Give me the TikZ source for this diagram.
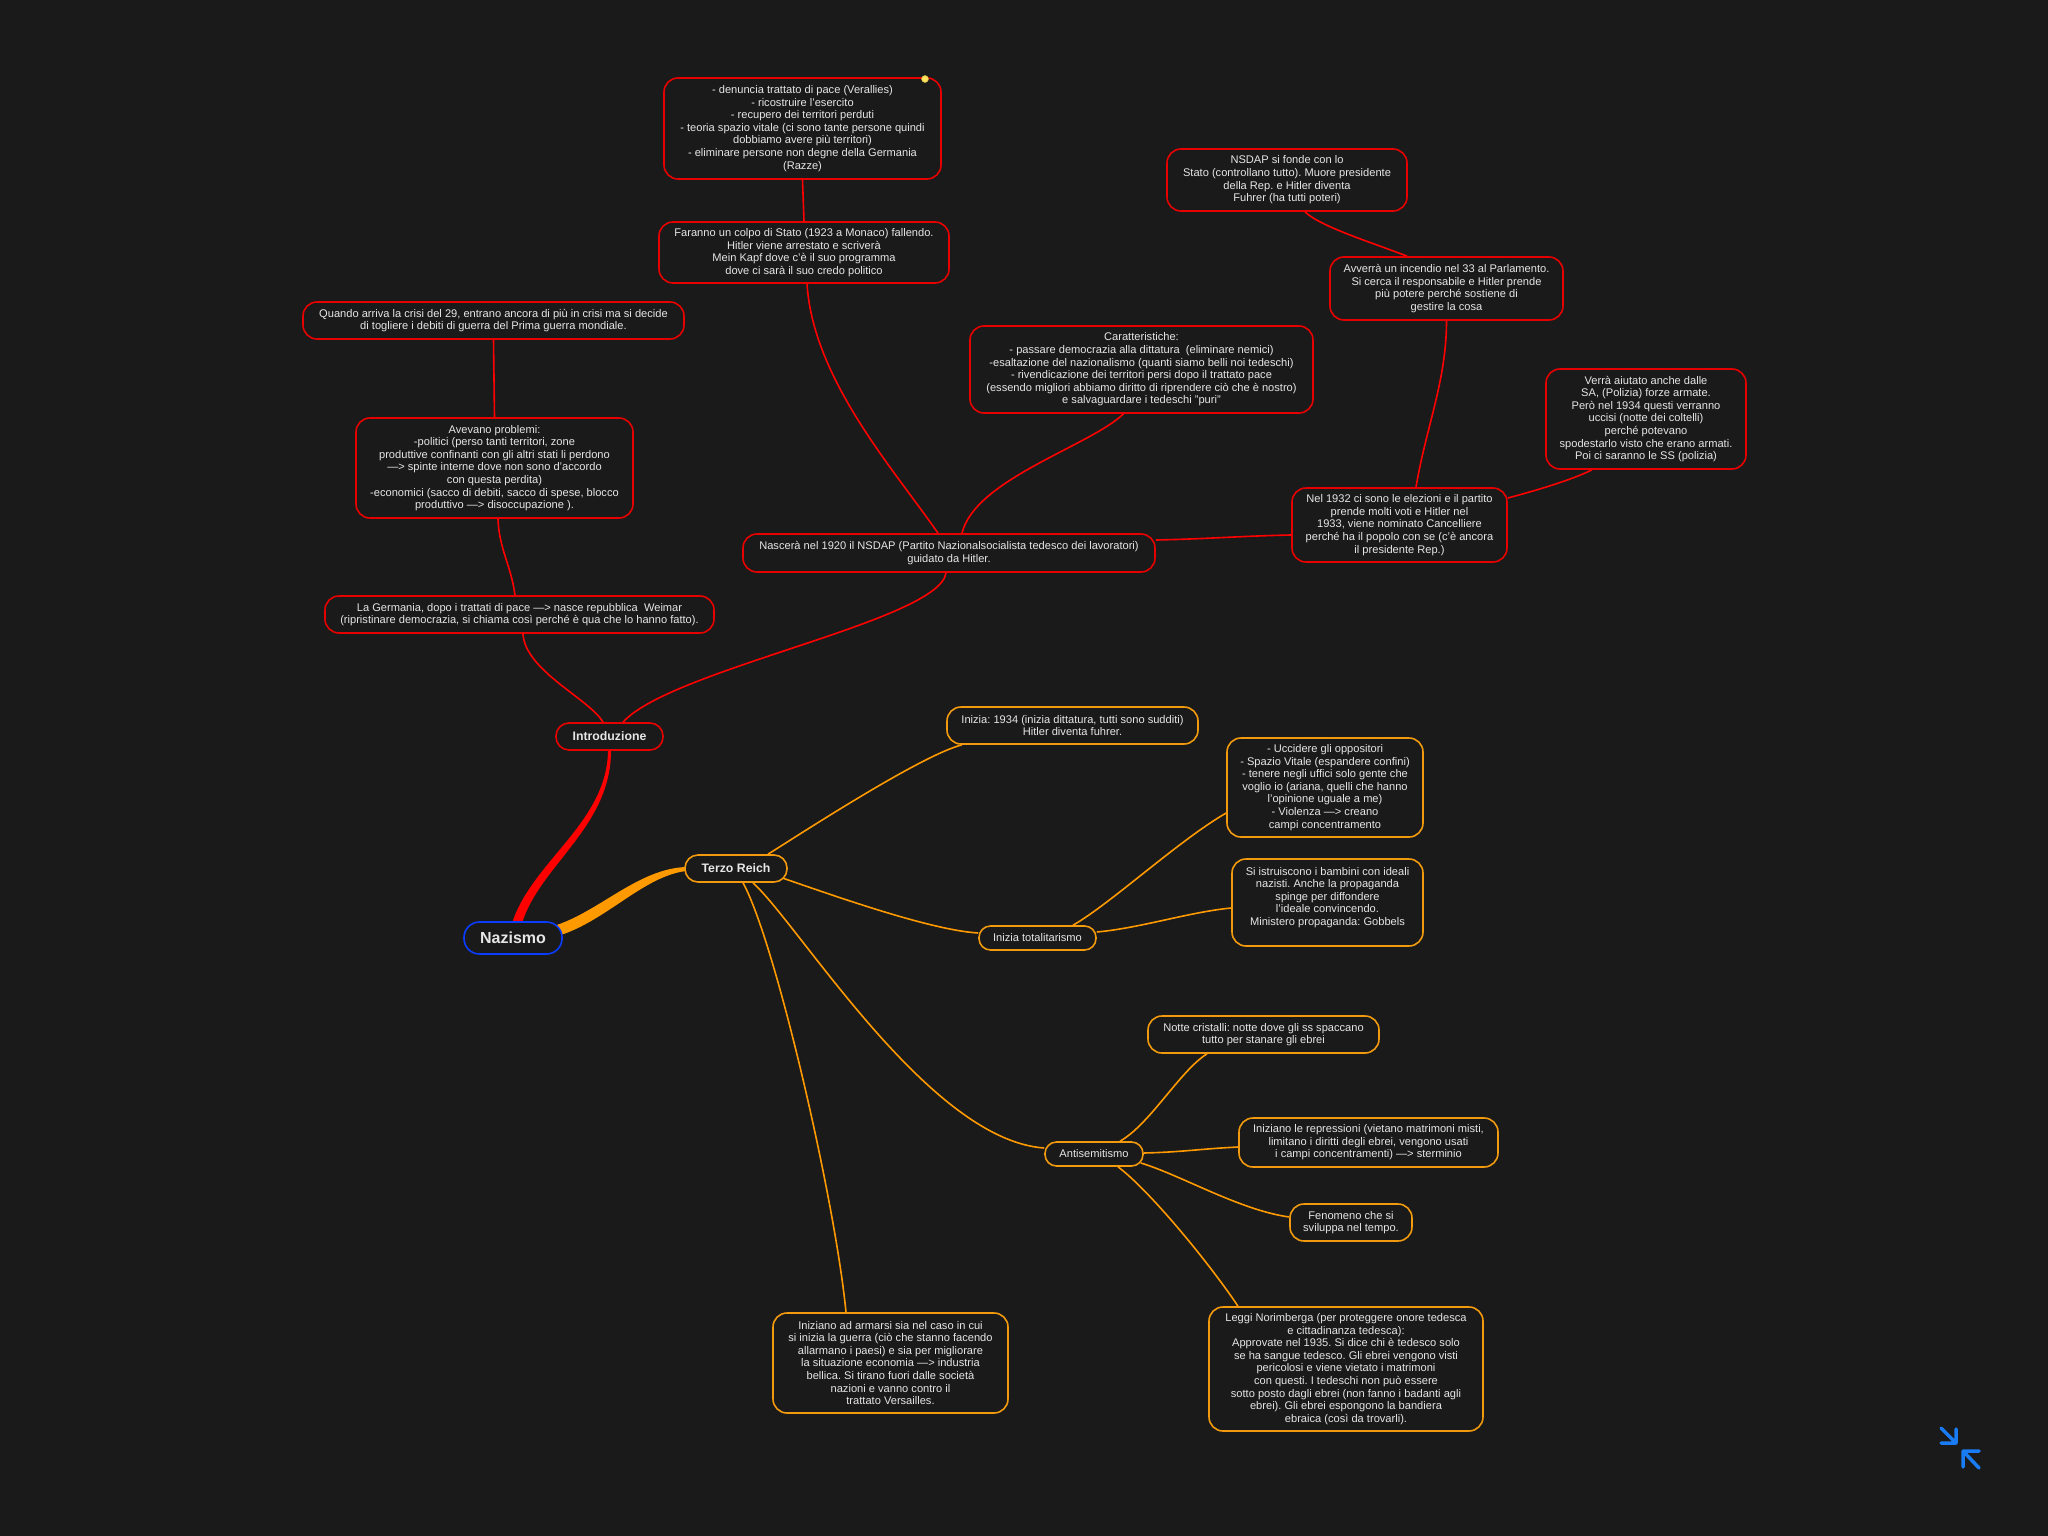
\documentclass[tikz,border=0pt]{standalone}
\usepackage{fontspec}
\setmainfont{Liberation Sans}
\usetikzlibrary{calc}
\frenchspacing
\definecolor{bg}{HTML}{1A1A1A}
\definecolor{fg}{HTML}{E6E6E6}
\definecolor{bred}{HTML}{E60000}
\definecolor{lred}{HTML}{FF0000}
\definecolor{bor}{HTML}{F29A0E}
\definecolor{lor}{HTML}{FF9900}
\definecolor{bblue}{HTML}{0A3CFF}
\definecolor{iconblue}{HTML}{1A7CF5}
\definecolor{dotyellow}{HTML}{FFE45C}
\pgfdeclarelayer{bgl}
\pgfsetlayers{bgl,main}
\tikzset{
  base/.style={fill=bg, text=fg, align=center, inner sep=0pt, line width=1.6pt, font=\frenchspacing\fontsize{11.1}{12.6}\selectfont},
  rbox/.style={base, draw=bred, rounded corners=14pt},
  obox/.style={base, draw=bor, rounded corners=14pt},
  sz/.style 2 args={minimum width=#1pt, minimum height=#2pt},
  rlink/.style={draw=lred, line width=1.6pt},
  olink/.style={draw=lor, line width=1.6pt},
  titlefont/.style={font=\fontsize{12.3}{14}\selectfont\bfseries},
}
\begin{document}
\begin{tikzpicture}[x=1pt,y=-1pt]
\useasboundingbox (0,0) rectangle (2048,1536);

% ---------- red branch ----------
\node[rbox, sz={277}{101}] (den) at (802.5,128.5) {- denuncia trattato di pace (Verallies)\\- ricostruire l’esercito\\- recupero dei territori perduti\\- teoria spazio vitale (ci sono tante persone quindi\\dobbiamo avere più territori)\\- eliminare persone non degne della Germania\\(Razze)};
\node[circle, fill=dotyellow, draw=dotyellow!75!black, line width=0.5pt, minimum size=7pt, inner sep=0pt] (dot) at (925,79) {};
\node[rbox, sz={290}{61}] (far) at (804,252.5) {Faranno un colpo di Stato (1923 a Monaco) fallendo.\\Hitler viene arrestato e scriverà\\Mein Kapf dove c’è il suo programma\\dove ci sarà il suo credo politico};
\node[rbox, sz={240}{62}] (nsdap) at (1287,180) {NSDAP si fonde con lo\\Stato (controllano tutto). Muore presidente\\della Rep. e Hitler diventa\\Fuhrer (ha tutti poteri)};
\node[rbox, sz={233}{63}] (avv) at (1446.5,288.5) {Avverrà un incendio nel 33 al Parlamento.\\Si cerca il responsabile e Hitler prende\\più potere perché sostiene di\\gestire la cosa};
\node[rbox, sz={381}{37}] (quando) at (493.5,320.5) {Quando arriva la crisi del 29, entrano ancora di più in crisi ma si decide\\di togliere i debiti di guerra del Prima guerra mondiale.};
\node[rbox, sz={277}{100}] (avevano) at (494.5,468) {Avevano problemi:\\-politici (perso tanti territori, zone\\produttive confinanti con gli altri stati li perdono\\—> spinte interne dove non sono d’accordo\\con questa perdita)\\-economici (sacco di debiti, sacco di spese, blocco\\produttivo —> disoccupazione ).};
\node[rbox, sz={343}{87}] (carat) at (1141.5,369.5) {Caratteristiche:\\- passare democrazia alla dittatura~ (eliminare nemici)\\-esaltazione del nazionalismo (quanti siamo belli noi tedeschi)\\- rivendicazione dei territori persi dopo il trattato pace\\(essendo migliori abbiamo diritto di riprendere ciò che è nostro)\\e salvaguardare i tedeschi "puri"};
\node[rbox, sz={200}{100}] (verra) at (1646,419) {Verrà aiutato anche dalle\\SA, (Polizia) forze armate.\\Però nel 1934 questi verranno\\uccisi (notte dei coltelli)\\perché potevano\\spodestarlo visto che erano armati.\\Poi ci saranno le SS (polizia)};
\node[rbox, sz={215}{74}] (nel32) at (1399.5,525) {Nel 1932 ci sono le elezioni e il partito\\prende molti voti e Hitler nel\\1933, viene nominato Cancelliere\\perché ha il popolo con se (c’è ancora\\il presidente Rep.)};
\node[rbox, sz={412}{38}] (nasc) at (949,553) {Nascerà nel 1920 il NSDAP (Partito Nazionalsocialista tedesco dei lavoratori)\\guidato da Hitler.};
\node[rbox, sz={389}{37}] (germ) at (519.5,614.5) {La Germania, dopo i trattati di pace —> nasce repubblica~ Weimar\\(ripristinare democrazia, si chiama così perché è qua che lo hanno fatto).};
\node[rbox, sz={107}{27}, rounded corners=13pt, titlefont] (intro) at (609.5,736.5) {Introduzione};

% ---------- root ----------
\node[base, draw=bblue, sz={98}{32}, rounded corners=15.5pt, font=\fontsize{16}{18}\selectfont\bfseries] (naz) at (513,938) {Nazismo};

% ---------- orange branch ----------
\node[obox, sz={102}{27}, rounded corners=13pt, titlefont] (terzo) at (736,868.5) {Terzo Reich};
\node[obox, sz={251}{37}] (iniz34) at (1072.5,725.5) {Inizia: 1934 (inizia dittatura, tutti sono sudditi)\\Hitler diventa fuhrer.};
\node[obox, sz={196}{99}] (ucc) at (1325,787.5) {- Uccidere gli oppositori\\- Spazio Vitale (espandere confini)\\- tenere negli uffici solo gente che\\voglio io (ariana, quelli che hanno\\l’opinione uguale a me)\\- Violenza —> creano\\campi concentramento};
\node[obox, sz={191}{87}] (siis) at (1327.5,902.5) {Si istruiscono i bambini con ideali\\nazisti. Anche la propaganda\\spinge per diffondere\\l’ideale convincendo.\\Ministero propaganda: Gobbels\\\mbox{}};
\node[obox, sz={117}{24}, rounded corners=11.5pt] (totit) at (1037.5,938) {Inizia totalitarismo};
\node[obox, sz={231}{37}] (notte) at (1263.5,1034.5) {Notte cristalli: notte dove gli ss spaccano\\tutto per stanare gli ebrei};
\node[obox, sz={98}{24}, rounded corners=11.5pt] (antis) at (1094,1154) {Antisemitismo};
\node[obox, sz={259}{49}] (repr) at (1368.5,1142.5) {Iniziano le repressioni (vietano matrimoni misti,\\limitano i diritti degli ebrei, vengono usati\\i campi concentramenti) —> sterminio};
\node[obox, sz={122}{37}] (fenom) at (1351,1222.5) {Fenomeno che si\\sviluppa nel tempo.};
\node[obox, sz={274}{124}] (leggi) at (1346,1369) {Leggi Norimberga (per proteggere onore tedesca\\e cittadinanza tedesca):\\Approvate nel 1935. Si dice chi è tedesco solo\\se ha sangue tedesco. Gli ebrei vengono visti\\pericolosi e viene vietato i matrimoni\\con questi. I tedeschi non può essere\\sotto posto dagli ebrei (non fanno i badanti agli\\ebrei). Gli ebrei espongono la bandiera\\ebraica (così da trovarli).};
\node[obox, sz={235}{100}] (armarsi) at (890.5,1363) {Iniziano ad armarsi sia nel caso in cui\\si inizia la guerra (ciò che stanno facendo\\allarmano i paesi) e sia per migliorare\\la situazione economia —> industria\\bellica. Si tirano fuori dalle società\\nazioni e vanno contro il\\trattato Versailles.};

% ---------- icon ----------
\draw[iconblue, line width=3.5pt, line cap=round, line join=round]
  (1941,1428) -- (1956,1443) (1941,1443) -- (1956,1443) -- (1956,1429)
  (1979,1468) -- (1963,1451) (1963,1467) -- (1963,1451) -- (1979,1451);

\begin{pgfonlayer}{bgl}
\fill[bg] (0,0) rectangle (2048,1536);
% thick root connectors
\fill[lred] ($(naz.north)+(-1,2)$) .. controls +(20,-62) and +(-1,72) .. ($(intro.south)+(-1.5,0)$)
  -- ($(intro.south)+(1.5,0)$) .. controls +(0,76) and +(18,-58) .. ($(naz.north)+(9,2)$) -- cycle;
\fill[lor] ($(naz.east)+(-6,-13)$) .. controls +(44,-15) and +(-47,1.5) .. ($(terzo.west)+(2,-1.5)$)
  -- ($(terzo.west)+(2,2.5)$) .. controls +(-42,5) and +(46,-15) .. ($(naz.east)+(-2,-3)$) -- cycle;
% red links
\draw[rlink] (den.south) -- (far.north);
\draw[rlink] ($(far.south)+(3,0)$) .. controls +(6,95) and +(-45,-65) .. ($(nasc.north)+(-11,0)$);
\draw[rlink] ($(carat.south)+(-18,0)$) .. controls +(-33,32) and +(13,-54) .. ($(nasc.north)+(13,0)$);
\draw[rlink] ($(nasc.east)+(0,-13)$) .. controls +(50,-1) and +(-50,1) .. ($(nel32.west)+(0,10)$);
\draw[rlink] ($(nel32.north)+(16.5,0)$) .. controls +(10,-60) and +(0,60) .. (avv.south);
\draw[rlink] ($(nsdap.south)+(18,0)$) .. controls +(15,15) and +(-30,-12) .. ($(avv.north)+(-39.5,0)$);
\draw[rlink] ($(nel32.east)+(0,-27)$) .. controls +(30,-8) and +(-20,10) .. ($(verra.south)+(-54,0)$);
\draw[rlink] ($(intro.north)+(-6.5,0)$) .. controls +(-13,-23) and +(2,37) .. ($(germ.south)+(3.5,0)$);
\draw[rlink] ($(germ.north)+(-4.5,0)$) .. controls +(-4,-30) and +(1,30) .. ($(avevano.south)+(3.5,0)$);
\draw[rlink] (avevano.north) -- (quando.south);
\draw[rlink] ($(intro.north)+(13.5,0)$) .. controls +(47,-53) and +(-6,48) .. ($(nasc.south)+(-3,0)$);
% orange links
\draw[olink] ($(terzo.north)+(32,0)$) .. controls +(32,-20) and +(-42,11) .. ($(iniz34.south)+(-110.5,0)$);
\draw[olink] ($(terzo.east)+(-4,10)$) .. controls +(47,16) and +(-49,-3) .. ($(totit.west)+(0,-5)$);
\draw[olink] ($(totit.north)+(35.5,0)$) .. controls +(37,-21) and +(-47,27) .. ($(ucc.west)+(0,25.5)$);
\draw[olink] ($(totit.east)+(0,-6)$) .. controls +(44,-4) and +(-42,4) .. ($(siis.west)+(0,5.5)$);
\draw[olink] ($(terzo.south)+(17,0)$) .. controls +(47,43) and +(-115,-8) .. ($(antis.west)+(0,-6)$);
\draw[olink] ($(terzo.south)+(7,0)$) .. controls +(32,58) and +(-11,-113) .. ($(armarsi.north)+(-44.5,0)$);
\draw[olink] ($(antis.north)+(26,0)$) .. controls +(30,-17) and +(-27,17) .. ($(notte.south)+(-56.5,0)$);
\draw[olink] ($(antis.east)+(0,-1)$) .. controls +(40,-1) and +(-40,2) .. ($(repr.west)+(0,4.5)$);
\draw[olink] ($(antis.east)+(-3,9)$) .. controls +(40,12) and +(-50,-7) .. ($(fenom.west)+(0,-5.5)$);
\draw[olink] ($(antis.south)+(24,0)$) .. controls +(32,24) and +(-28,-42) .. ($(leggi.north)+(-108,0)$);
\end{pgfonlayer}
\end{tikzpicture}
\end{document}
